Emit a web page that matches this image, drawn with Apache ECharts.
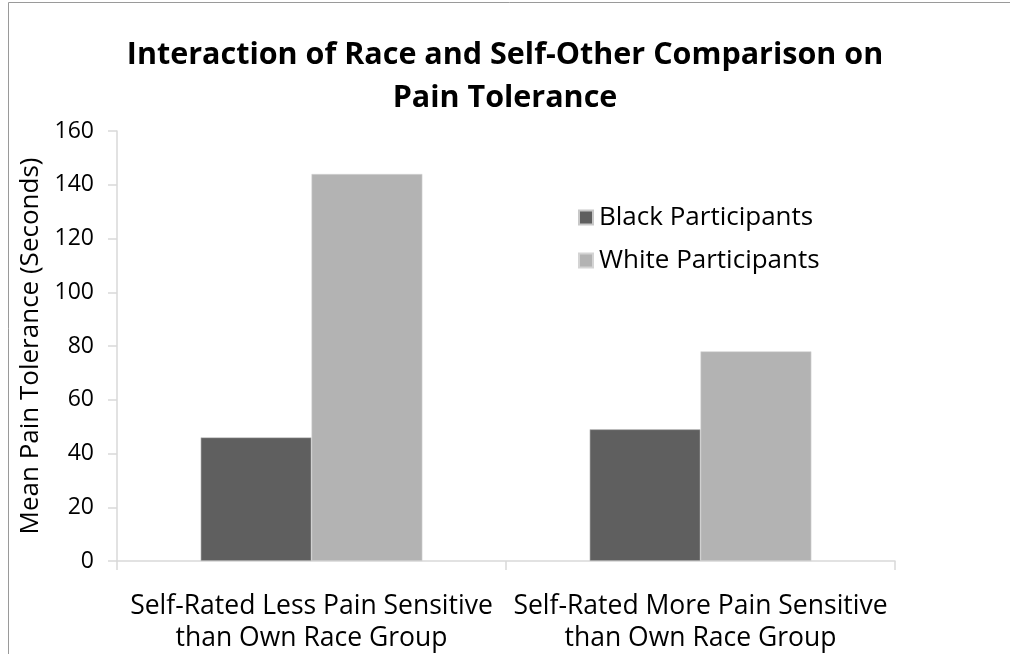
<!DOCTYPE html>
<html>
<head>
<meta charset="utf-8">
<script src="https://cdn.jsdelivr.net/npm/echarts@6/dist/echarts.min.js"></script>
<style>
  html, body { margin: 0; padding: 0; background: #fff; }
  #chart { width: 1010px; height: 654px; }
</style>
</head>
<body>
<div id="chart"></div>
<script>
// Mean pain tolerance by self-other comparison group and race
const categories = [
  'Self-Rated Less Pain Sensitive\nthan Own Race Group',
  'Self-Rated More Pain Sensitive\nthan Own Race Group'
];
const blackParticipants = [46, 49];
const whiteParticipants = [144, 78];
const yTicks = { min: 0, max: 160, interval: 20 };

const FONT = '"Open Sans", Lato, sans-serif';

const chart = echarts.init(document.getElementById('chart'));
chart.setOption({
  backgroundColor: '#ffffff',
  animation: false,
  textStyle: { fontFamily: FONT },
  title: {
    text: 'Interaction of Race and Self-Other Comparison on\nPain Tolerance',
    left: 'center',
    top: 29,
    textStyle: {
      fontFamily: FONT,
      fontSize: 30.5,
      fontWeight: 'bold',
      color: '#000',
      lineHeight: 43
    }
  },
  legend: {
    orient: 'vertical',
    left: 573,
    top: 197,
    itemWidth: 14,
    itemHeight: 14,
    itemGap: 12,
    icon: 'rect',
    textStyle: { fontFamily: FONT, fontSize: 26, lineHeight: 31, color: '#000', padding: [0, 0, 0, 1] },
    data: ['Black Participants', 'White Participants']
  },
  grid: { left: 117, right: 115, top: 131, bottom: 93 },
  xAxis: {
    type: 'category',
    data: categories,
    boundaryGap: true,
    axisLine: { show: true, lineStyle: { color: '#d9d9d9', width: 1.5 } },
    axisTick: { show: true, length: 9, lineStyle: { color: '#d9d9d9', width: 1.5 } },
    axisLabel: {
      fontFamily: FONT,
      fontSize: 26.5,
      color: '#000',
      lineHeight: 32,
      margin: 29,
      interval: 0
    }
  },
  yAxis: {
    type: 'value',
    min: yTicks.min,
    max: yTicks.max,
    interval: yTicks.interval,
    name: 'Mean Pain Tolerance (Seconds)',
    nameLocation: 'middle',
    nameGap: 69,
    nameRotate: 90,
    nameTextStyle: { fontFamily: FONT, fontSize: 26, color: '#000' },
    axisLine: { show: true, lineStyle: { color: '#d9d9d9', width: 1.5 } },
    axisTick: { show: true, length: 9, lineStyle: { color: '#d9d9d9', width: 1.5 } },
    splitLine: { show: false },
    axisLabel: { fontFamily: FONT, fontSize: 23, color: '#000', margin: 23 }
  },
  series: [
    {
      name: 'Black Participants',
      type: 'bar',
      data: blackParticipants,
      barWidth: '28.5%',
      barGap: '0%',
      itemStyle: { color: '#5f5f5f', borderColor: '#c8c8c8', borderWidth: 0.6 }
    },
    {
      name: 'White Participants',
      type: 'bar',
      data: whiteParticipants,
      barWidth: '28.5%',
      itemStyle: { color: '#b3b3b3', borderColor: '#d4d4d4', borderWidth: 0.6 }
    }
  ],
  graphic: [
    {
      type: 'rect',
      shape: { x: 8.5, y: 2.5, width: 1100, height: 700 },
      style: { fill: 'none', stroke: '#9a9a9a', lineWidth: 1 },
      silent: true
    }
  ]
});
</script>
</body>
</html>
